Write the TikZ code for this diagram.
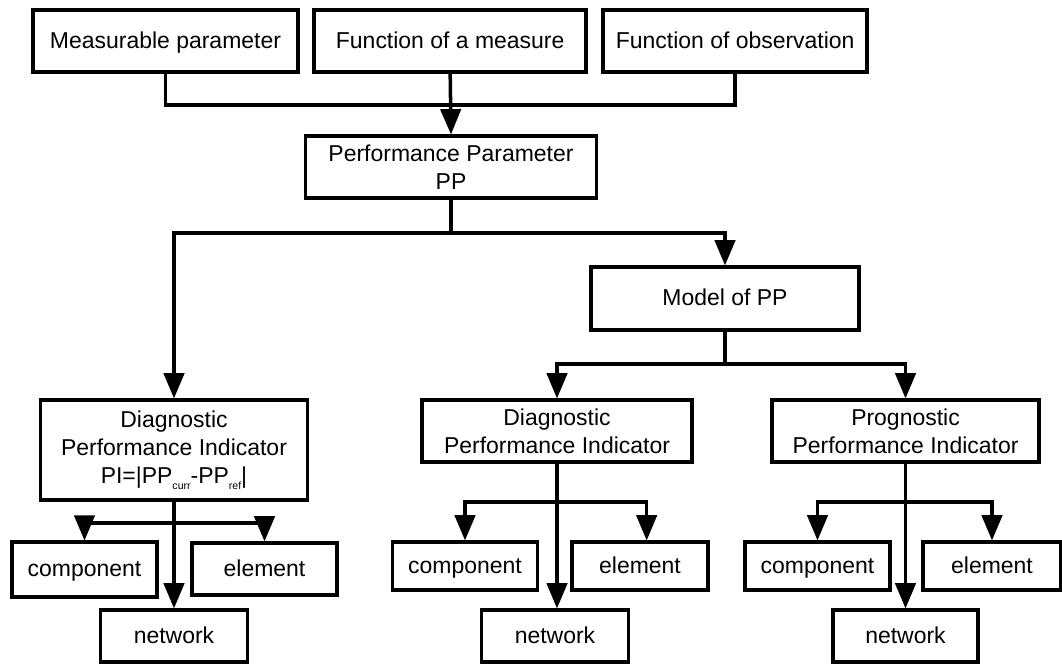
\documentclass[tikz,border=0pt]{standalone}
\usepackage{fontspec}
\setmainfont{Liberation Sans}
\usepackage{tikz}
\usetikzlibrary{arrows, positioning}
\tikzset{
  block/.style={draw, line width=1.5pt, inner sep=0pt, align=center, font=\fontsize{9.8}{12}\selectfont},
  oneline/.style={text height=1.55ex, text depth=0.35ex},
  wide/.style={block, minimum width=4.0cm, minimum height=0.93cm},
  leaf/.style={block, oneline, minimum width=2.17cm, minimum height=0.72cm},
}
\newcommand{\lowsub}[1]{\raisebox{-0.45ex}{\fontsize{4.5}{5}\selectfont #1}}

\begin{document}
\begin{tikzpicture}[x=0.015cm, y=-0.015cm, >=triangle 45, line width=1.5pt]
\useasboundingbox (0,0) rectangle (1062,664);
% sources of the parameter
\node[wide, oneline, minimum width=3.975cm] (meas) at (165.5,41) {Measurable parameter};
\node[wide, oneline, minimum width=4.08cm, right of=meas, node distance=4.27cm] (func) {Function of a measure};
\node[wide, oneline, minimum width=3.96cm, right of=func, node distance=4.275cm] (obs) {Function of observation};
\node[wide, minimum width=4.365cm] (pp) at (451,167) {Performance Parameter\\PP};
\node[wide, oneline, minimum width=4.02cm, minimum height=0.945cm] (model) at (725,298.5) {Model of PP};
% indicators
\node[wide, minimum width=4.005cm, minimum height=1.5cm] (ldiag) at (174,450) {Diagnostic\\Performance Indicator\\PI=|PP\lowsub{curr}-PP\lowsub{ref}|};
\node[wide, minimum width=4.05cm] (mdiag) at (557,431) {Diagnostic\\Performance Indicator};
\node[wide] (rprog) at (905.5,431) {Prognostic\\Performance Indicator};
% levels
\node[leaf, minimum height=0.82cm] (lcomp) at (84.5,569.5) {component};
\node[leaf, minimum height=0.78cm] (lelem) at (264.5,569) {element};
\node[leaf, minimum width=2.2cm, minimum height=0.78cm] (lnet) at (174,636) {network};
\node[leaf] (mcomp) at (465,566) {component};
\node[leaf, minimum width=2.04cm] (melem) at (640,566) {element};
\node[leaf, minimum width=2.2cm, minimum height=0.78cm] (mnet) at (555,636) {network};
\node[leaf] (rcomp) at (817.5,566) {component};
\node[leaf, minimum width=2.07cm] (relem) at (992,566) {element};
\node[leaf, minimum width=2.17cm, minimum height=0.78cm] (rnet) at (905.5,636) {network};
% junctions
\coordinate (join1) at (450,105);
\coordinate (split1) at (451,233);
\coordinate (split2) at (725,364);
\coordinate (lsplit) at (174,523);
\coordinate (msplit) at (557,502);
\coordinate (rsplit) at (905.5,502);
% connectors
\draw (meas.south) |- (join1) -| (obs.south);
\draw [->] (func.south) -- (pp.north);
\draw (pp.south) -- (split1);
\draw [->] (split1) -| (ldiag.north);
\draw [->] (split1) -| (model.north);
\draw (model.south) -- (split2);
\draw [->] (split2) -| (mdiag.north);
\draw [->] (split2) -| (rprog.north);
\draw [->] (lsplit) -| (lcomp.north);
\draw [->] (lsplit) -| (lelem.north);
\draw [->] (ldiag.south) -- (lnet.north);
\draw [->] (msplit) -| (mcomp.north);
\draw [->] (msplit) -| ([xshift=0.1cm]melem.north);
\draw [->] (mdiag.south) -- (mdiag.south |- mnet.north);
\draw [->] (rsplit) -| (rcomp.north);
\draw [->] (rsplit) -| (relem.north);
\draw [->] (rprog.south) -- (rnet.north);
\end{tikzpicture}
\end{document}
